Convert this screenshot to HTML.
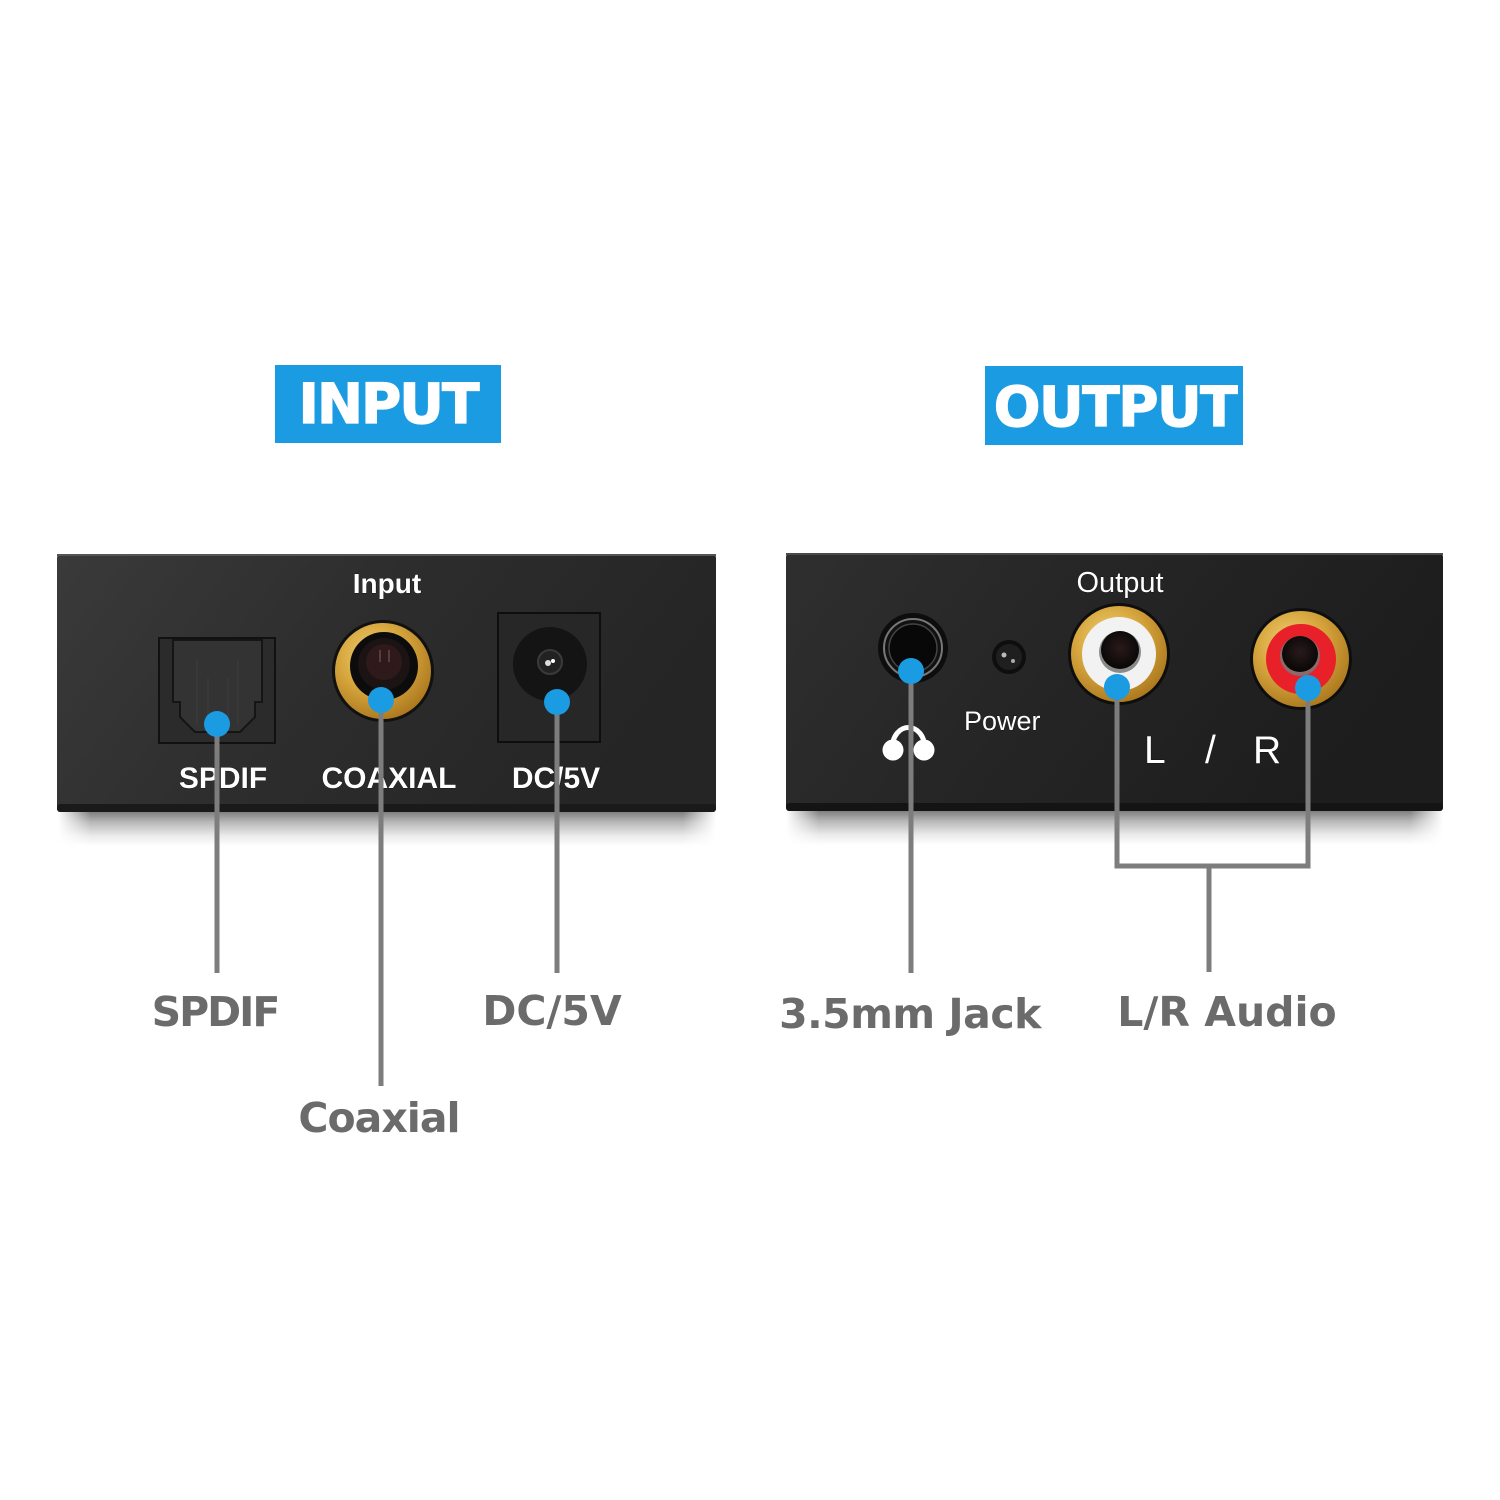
<!DOCTYPE html>
<html>
<head>
<meta charset="utf-8">
<style>
html,body{margin:0;padding:0;background:#fff;}
svg{display:block;}
</style>
</head>
<body>
<svg width="1500" height="1500" viewBox="0 0 1500 1500" xmlns="http://www.w3.org/2000/svg">
<defs>
  <linearGradient id="panelL" x1="0" y1="0" x2="1" y2="0.3">
    <stop offset="0" stop-color="#3a3a3a"/>
    <stop offset="0.5" stop-color="#2d2d2d"/>
    <stop offset="1" stop-color="#252525"/>
  </linearGradient>
  <linearGradient id="panelR" x1="0" y1="0" x2="1" y2="0.3">
    <stop offset="0" stop-color="#2f2f2f"/>
    <stop offset="0.5" stop-color="#252525"/>
    <stop offset="1" stop-color="#1d1d1d"/>
  </linearGradient>
  <linearGradient id="shadow" x1="0" y1="0" x2="0" y2="1">
    <stop offset="0" stop-color="#000" stop-opacity="0.5"/>
    <stop offset="0.3" stop-color="#000" stop-opacity="0.28"/>
    <stop offset="0.7" stop-color="#000" stop-opacity="0.08"/>
    <stop offset="1" stop-color="#000" stop-opacity="0"/>
  </linearGradient>
  <linearGradient id="shadowH" x1="0" y1="0" x2="1" y2="0">
    <stop offset="0" stop-color="#fff" stop-opacity="0"/>
    <stop offset="0.05" stop-color="#fff" stop-opacity="1"/>
    <stop offset="0.95" stop-color="#fff" stop-opacity="1"/>
    <stop offset="1" stop-color="#fff" stop-opacity="0"/>
  </linearGradient>
  <mask id="shm" maskContentUnits="objectBoundingBox">
    <rect x="0" y="0" width="1" height="1" fill="url(#shadowH)"/>
  </mask>
  <radialGradient id="gold" cx="0.4" cy="0.35" r="0.7">
    <stop offset="0" stop-color="#f0d27a"/>
    <stop offset="0.5" stop-color="#d7a73e"/>
    <stop offset="1" stop-color="#a9751c"/>
  </radialGradient>
  <radialGradient id="hole" cx="0.5" cy="0.45" r="0.6">
    <stop offset="0" stop-color="#2a1a1a"/>
    <stop offset="1" stop-color="#050505"/>
  </radialGradient>
</defs>

<rect width="1500" height="1500" fill="#ffffff"/>

<!-- Title boxes -->
<rect x="275" y="365" width="226" height="78" fill="#1b9be2"/>
<text x="388" y="423" text-anchor="middle" font-family="DejaVu Sans, Liberation Sans, sans-serif" font-weight="bold" font-size="55" letter-spacing="-2" fill="#ffffff" stroke="#ffffff" stroke-width="1.2">INPUT</text>
<rect x="985" y="366" width="258" height="79" fill="#1b9be2"/>
<text x="1115" y="426" text-anchor="middle" font-family="DejaVu Sans, Liberation Sans, sans-serif" font-weight="bold" font-size="55" letter-spacing="-1.5" fill="#ffffff" stroke="#ffffff" stroke-width="1.2">OUTPUT</text>

<!-- Shadows under panels -->
<rect x="58" y="812" width="658" height="34" fill="url(#shadow)" mask="url(#shm)"/>
<rect x="786" y="811" width="657" height="34" fill="url(#shadow)" mask="url(#shm)"/>

<!-- Left panel -->
<rect x="57" y="554" width="659" height="258" rx="4" fill="url(#panelL)"/>
<rect x="57" y="554" width="659" height="2" fill="#555"/>
<rect x="57" y="804" width="659" height="8" rx="3" fill="#1a1a1a"/>

<!-- Right panel -->
<rect x="786" y="553" width="657" height="258" rx="4" fill="url(#panelR)"/>
<rect x="786" y="553" width="657" height="2" fill="#4a4a4a"/>
<rect x="786" y="803" width="657" height="8" rx="3" fill="#141414"/>

<!-- Left panel text -->
<g font-family="Liberation Sans, Arial, sans-serif" fill="#ffffff" stroke="#000" stroke-width="0.6" paint-order="stroke">
  <text x="387" y="593" text-anchor="middle" font-weight="bold" font-size="28">Input</text>
  <text x="223" y="788" text-anchor="middle" font-weight="bold" font-size="30">SPDIF</text>
  <text x="389" y="788" text-anchor="middle" font-weight="bold" font-size="30">COAXIAL</text>
  <text x="556" y="788" text-anchor="middle" font-weight="bold" font-size="30">DC/5V</text>
</g>

<!-- SPDIF optical connector -->
<rect x="159" y="638" width="116" height="105" fill="#2b2b2b" stroke="#111" stroke-width="2"/>
<polygon points="173,640 262,640 262,702 255,702 255,717 240,732 195,732 180,717 180,702 173,702" fill="#333" stroke="#151515" stroke-width="2"/>
<line x1="197" y1="660" x2="197" y2="725" stroke="#3e3e3e" stroke-width="1"/>
<line x1="238" y1="660" x2="238" y2="725" stroke="#3e3e3e" stroke-width="1"/>
<line x1="208" y1="678" x2="208" y2="725" stroke="#3e3e3e" stroke-width="1"/>
<line x1="228" y1="678" x2="228" y2="725" stroke="#3e3e3e" stroke-width="1"/>

<!-- Coaxial connector -->
<circle cx="383" cy="671" r="51" fill="#111"/>
<circle cx="383" cy="671" r="48" fill="url(#gold)"/>
<circle cx="384" cy="666" r="34" fill="#0c0c0c"/>
<circle cx="384" cy="664" r="26" fill="#1c1414"/>
<circle cx="384" cy="662" r="18" fill="#2e1a1a"/>
<line x1="380" y1="650" x2="380" y2="662" stroke="#5a3a3a" stroke-width="2"/>
<line x1="389" y1="650" x2="389" y2="662" stroke="#5a3a3a" stroke-width="2"/>

<!-- DC jack -->
<rect x="498" y="613" width="102" height="129" fill="#272727" stroke="#0e0e0e" stroke-width="2"/>
<circle cx="550" cy="664" r="37" fill="#141414"/>
<circle cx="550" cy="662" r="12" fill="#222" stroke="#3a3a3a" stroke-width="2"/>
<circle cx="548" cy="663" r="3" fill="#ddd"/>
<circle cx="553" cy="661" r="2" fill="#fff"/>

<!-- Right panel text -->
<g font-family="Liberation Sans, Arial, sans-serif" fill="#ffffff" stroke="#000" stroke-width="0.5" paint-order="stroke">
  <text x="1120" y="592" text-anchor="middle" font-size="29">Output</text>
  <text x="964" y="730" font-size="27">Power</text>
  <text x="1144" y="763" font-size="39">L</text>
  <text x="1205" y="763" font-size="39">/</text>
  <text x="1253" y="763" font-size="39">R</text>
</g>

<!-- 3.5mm jack -->
<circle cx="913" cy="648" r="35" fill="#0d0d0d"/>
<circle cx="913" cy="648" r="29" fill="#111" stroke="#777" stroke-width="2"/>
<circle cx="913" cy="648" r="24" fill="#080808" stroke="#444" stroke-width="1.5"/>

<!-- Power LED -->
<circle cx="1009" cy="657" r="17" fill="#0e0e0e"/>
<circle cx="1009" cy="657" r="13" fill="#1f1f1f"/>
<circle cx="1004" cy="655" r="2.5" fill="#bbb"/>
<circle cx="1013" cy="661" r="2" fill="#aaa"/>

<!-- Headphone icon -->
<path d="M892,750 C892,720 925,720 925,750" fill="none" stroke="#ffffff" stroke-width="5"/>
<circle cx="893" cy="750" r="10.5" fill="#ffffff"/>
<circle cx="924" cy="750" r="10.5" fill="#ffffff"/>

<!-- L RCA -->
<circle cx="1119" cy="654" r="51" fill="#0e0e0e"/>
<circle cx="1119" cy="654" r="48" fill="url(#gold)"/>
<circle cx="1119" cy="654" r="37" fill="#f2f2f2"/>
<circle cx="1120" cy="652" r="21" fill="#8a8a8a"/>
<circle cx="1120" cy="650" r="19" fill="url(#hole)"/>

<!-- R RCA -->
<circle cx="1301" cy="659" r="51" fill="#0e0e0e"/>
<circle cx="1301" cy="659" r="48" fill="url(#gold)"/>
<circle cx="1301" cy="659" r="35" fill="#e8202a"/>
<circle cx="1300" cy="656" r="20" fill="#8a6a6a"/>
<circle cx="1300" cy="654" r="18" fill="url(#hole)"/>

<!-- Connector lines -->
<g stroke="#7d7d7d" stroke-width="5" fill="none">
  <line x1="217" y1="724" x2="217" y2="973"/>
  <line x1="381" y1="700" x2="381" y2="1086"/>
  <line x1="557" y1="702" x2="557" y2="973"/>
  <line x1="911" y1="671" x2="911" y2="973"/>
  <polyline points="1117,687 1117,866 1308,866 1308,688"/>
  <line x1="1209" y1="866" x2="1209" y2="972"/>
</g>

<!-- Blue dots -->
<g fill="#1b9be2">
  <circle cx="217" cy="724" r="13"/>
  <circle cx="381" cy="700" r="13"/>
  <circle cx="557" cy="702" r="13"/>
  <circle cx="911" cy="671" r="13"/>
  <circle cx="1117" cy="687" r="13"/>
  <circle cx="1308" cy="688" r="13"/>
</g>

<!-- Bottom labels -->
<g font-family="DejaVu Sans, Verdana, sans-serif" font-weight="bold" font-size="41" fill="#6b6b6b">
  <text x="215" y="1026" text-anchor="middle" letter-spacing="-2">SPDIF</text>
  <text x="552" y="1025" text-anchor="middle">DC/5V</text>
  <text x="379" y="1132" text-anchor="middle" letter-spacing="-1">Coaxial</text>
  <text x="910" y="1028" text-anchor="middle" letter-spacing="-0.5">3.5mm Jack</text>
  <text x="1227" y="1026" text-anchor="middle">L/R Audio</text>
</g>
</svg>
</body>
</html>
